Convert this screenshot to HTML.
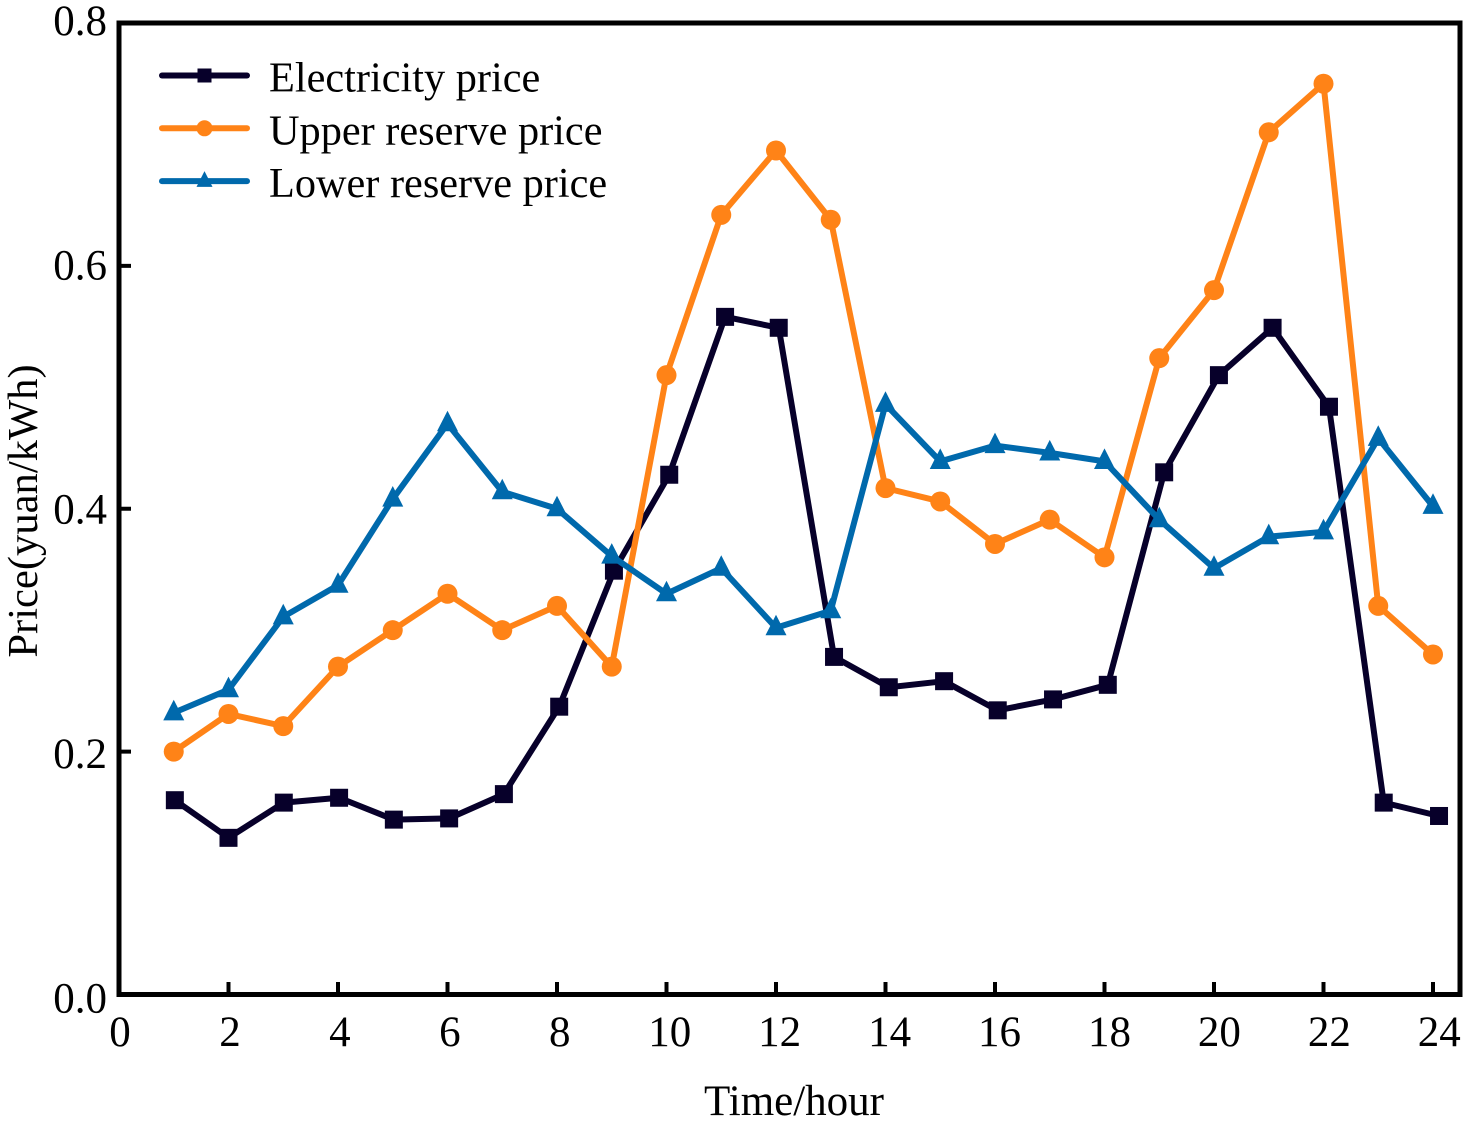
<!DOCTYPE html>
<html>
<head>
<meta charset="utf-8">
<style>
html,body{margin:0;padding:0;background:#fff;}
svg{display:block;}
text{font-family:"Liberation Serif",serif;fill:#000;}
</style>
</head>
<body>
<svg id="chart" xmlns="http://www.w3.org/2000/svg" width="1471" height="1123" viewBox="0 0 1471 1123"></svg>
<script>
const hours = [1,2,3,4,5,6,7,8,9,10,11,12,13,14,15,16,17,18,19,20,21,22,23,24];
const electricityHours = [1.02,2,3.01,4.02,5.02,6.03,7.03,8.04,9.04,10.05,11.07,12.05,13.06,14.06,15.07,16.05,17.06,18.06,19.09,20.09,21.07,22.1,23.1,24.11];
const electricityPrice = [0.160,0.129,0.158,0.162,0.144,0.145,0.165,0.237,0.349,0.428,0.558,0.549,0.278,0.253,0.258,0.234,0.243,0.255,0.430,0.510,0.549,0.484,0.158,0.147];
const upperReservePrice = [0.200,0.231,0.221,0.270,0.300,0.330,0.300,0.320,0.270,0.510,0.642,0.695,0.638,0.417,0.406,0.371,0.391,0.360,0.524,0.580,0.710,0.750,0.320,0.280];
const lowerReservePrice = [0.232,0.251,0.311,0.337,0.408,0.470,0.414,0.400,0.361,0.330,0.351,0.302,0.316,0.486,0.439,0.452,0.446,0.439,0.391,0.351,0.377,0.381,0.458,0.402];
const xTicks = [0,2,4,6,8,10,12,14,16,18,20,22,24];
const yTicks = [0.0,0.2,0.4,0.6,0.8];
const yTickLabels = ["0.0","0.2","0.4","0.6","0.8"];

const NS = "http://www.w3.org/2000/svg";
const svg = document.getElementById("chart");
const xScale = h => 119 + h * 54.75;
const yScale = v => 994.5 - v * 1214.4;
const xLabelPos = h => 120 + h * 54.97;
const yLabelBase = v => yScale(v) + 12 + (0.8 - v) * 7.5;

function make(tag, attrs, parent) {
  const el = document.createElementNS(NS, tag);
  for (const k in attrs) el.setAttribute(k, attrs[k]);
  (parent || svg).appendChild(el);
  return el;
}
function marker(kind, cx, cy, s, color, parent) {
  if (kind === "square") {
    return make("rect", {x: cx - s / 2, y: cy - s / 2, width: s, height: s, fill: color}, parent);
  }
  if (kind === "circle") {
    return make("circle", {cx: cx, cy: cy, r: s / 2, fill: color}, parent);
  }
  const top = cy - s * 0.62, bot = cy + s * 0.36;
  return make("polygon", {points: (cx - s / 2) + "," + bot + " " + cx + "," + top + " " + (cx + s / 2) + "," + bot, fill: color}, parent);
}

/* series */
function drawSeries(name, xs, ys, color, kind, size) {
  const g = make("g", {});
  
  
  const line = make("polyline", {
    points: xs.map((h, i) => xScale(h) + "," + yScale(ys[i])).join(" "),
    fill: "none", stroke: color, "stroke-width": 6, "stroke-linejoin": "round"
  }, g);
  
  
  xs.forEach((h, i) => {
    const m = marker(kind, xScale(h), yScale(ys[i]), size, color, g);
    
    
  });
}
drawSeries("electricity-price", electricityHours, electricityPrice, "#07002a", "square", 18);
drawSeries("upper-reserve-price", hours, upperReservePrice, "#ff8317", "circle", 20);
drawSeries("lower-reserve-price", hours, lowerReservePrice, "#0069ac", "triangle", 21);

/* frame */
const frame = make("rect", {x: 119, y: 23, width: 1341, height: 971.5, fill: "none", stroke: "#000", "stroke-width": 5});



/* x axis */
xTicks.forEach(t => {
  if (t !== 0) {
    const tick = make("line", {x1: xScale(t), x2: xScale(t), y1: 982, y2: 994, stroke: "#000", "stroke-width": 4});
    
    
  }
  const label = make("text", {x: xLabelPos(t), y: 1046, "text-anchor": "middle", "font-size": 43});
  label.textContent = String(t);
  
  
});

/* y axis */
yTicks.forEach((t, i) => {
  if (t !== 0 && t !== 0.8) {
    const tick = make("line", {x1: 119, x2: 131, y1: yScale(t), y2: yScale(t), stroke: "#000", "stroke-width": 4});
    
    
  }
  const label = make("text", {x: 107, y: yLabelBase(t), "text-anchor": "end", "font-size": 43});
  label.textContent = yTickLabels[i];
  
  
});

/* axis titles */
const xTitle = make("text", {x: 794, y: 1115, "text-anchor": "middle", "font-size": 43});
xTitle.textContent = "Time/hour";



const yTitle = make("text", {x: 0, y: 0, "text-anchor": "middle", "font-size": 42.6, transform: "translate(37 511) rotate(-90)"});
yTitle.textContent = "Price(yuan/kWh)";



/* legend */
const legend = make("g", {});


const legendNames = ["Electricity price", "Upper reserve price", "Lower reserve price"];
const legendColors = ["#07002a", "#ff8317", "#0069ac"];
const legendKinds = ["square", "circle", "triangle"];
legendNames.forEach((n, i) => {
  const y = 75.5 + i * 52.8;
  const entry = make("g", {}, legend);
  
  
  make("line", {x1: 162, x2: 247, y1: y, y2: y, stroke: legendColors[i], "stroke-width": 6, "stroke-linecap": "round"}, entry);
  marker(legendKinds[i], 204.5, y, i === 0 ? 14 : 16, legendColors[i], entry);
  const t = make("text", {x: 269, y: y + 16, "font-size": 42.3}, entry);
  t.textContent = n;
});
</script>
</body>
</html>
